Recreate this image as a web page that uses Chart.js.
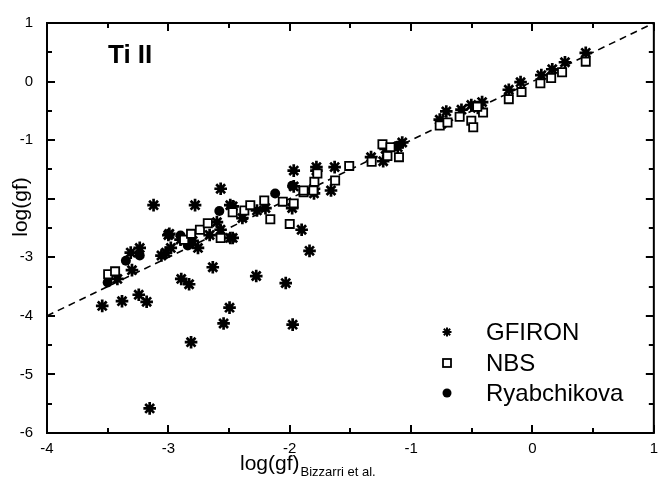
<!DOCTYPE html>
<html><head><meta charset="utf-8">
<script src="https://cdn.jsdelivr.net/npm/chart.js@4/dist/chart.umd.min.js"></script>
<style>html,body{margin:0;padding:0;background:#fff}#wrap{width:665px;height:478px}</style>
</head><body><div id="wrap"><canvas id="c" width="665" height="478"></canvas></div>
<script>
// ---- data ----
const seriesNames = ['GFIRON', 'NBS', 'Ryabchikova'];
const panelLabel = 'Ti II';
const xTicks = [-4, -3, -2, -1, 0, 1];
const xTickLabels = ['-4', '-3', '-2', '-1', '0', '1'];
const yTicks = [-6, -5, -4, -3, -2, -1, 0, 1];
const yTickLabels = ['-6', '-5', '-4', '-3', '', '-1', '0', '1']; // -2 hidden behind the axis title

const gfironX = [-3.545,-3.382,-3.244,-3.179,-3.154,-2.894,-2.829,-2.813,-2.634,-2.545,-2.496,-2.276,-2.033,-1.976,-1.837,-3.122,-2.78,-2.569,-1.967,-1.902,
  -3.42,-3.30,-3.31,-3.236,-3.057,-3.02,-2.98,-3.0,-2.992,-2.90,-2.756,-2.80,-2.66,-2.57,-2.47,-2.47,-2.60,-2.49,-2.39,-2.27,-2.20,-1.98,-1.967,-1.78,-1.80,-2.49,
  -1.78,-1.80,-1.63,-1.66,-1.33,-1.21,-1.11,-1.23,-1.073,
  -0.764,-0.71,-0.585,-0.504,-0.415,-0.195,-0.098,0.073,0.163,0.268,0.439,-0.75,-0.45];
const gfironY = [-3.83,-3.75,-3.64,-3.76,-5.58,-3.37,-3.46,-4.45,-3.17,-4.13,-3.86,-3.32,-3.44,-4.15,-2.89,-2.11,-2.11,-1.83,-1.52,-2.53,
  -3.37,-3.22,-2.92,-2.84,-2.97,-2.92,-2.84,-2.62,-2.60,-2.70,-2.84,-2.72,-2.62,-2.53,-2.67,-2.13,-2.40,-2.11,-2.33,-2.20,-2.16,-2.16,-1.79,-1.52,-1.83,-2.67,
  -1.46,-1.91,-1.46,-1.86,-1.29,-1.15,-1.12,-1.36,-1.04,
  -0.65,-0.51,-0.48,-0.40,-0.35,-0.14,-0.01,0.11,0.21,0.33,0.49,-0.72,-0.45];

const nbsX = [-3.496,-3.439,-2.87,-2.813,-2.74,-2.675,-2.569,-2.47,-2.374,-2.325,-2.21,-2.16,-2.0,-2.057,-1.967,-1.886,-1.797,-1.886,-1.772,-1.805,-1.626,-1.51,-1.325,-1.236,-1.195,-1.10,-1.17,
  -0.764,-0.70,-0.60,-0.504,-0.488,-0.407,-0.455,-0.195,-0.09,0.065,0.154,0.244,0.439];
const nbsY = [-3.29,-3.24,-2.70,-2.60,-2.53,-2.42,-2.67,-2.23,-2.20,-2.11,-2.03,-2.35,-2.43,-2.05,-2.08,-1.89,-1.71,-1.86,-1.57,-1.86,-1.69,-1.44,-1.37,-1.07,-1.27,-1.29,-1.12,
  -0.75,-0.70,-0.60,-0.67,-0.78,-0.53,-0.43,-0.30,-0.18,-0.03,0.06,0.16,0.34];

const ryabX = [-3.50,-3.35,-3.236,-2.90,-2.84,-2.58,-2.12,-1.98,-1.12,-0.48];
const ryabY = [-3.43,-3.06,-2.97,-2.63,-2.80,-2.21,-1.91,-1.78,-1.10,-0.42];

const refLineX = [-4, 1];
const refLineY = [-4, 1];

const pts = (xs, ys) => xs.map((x, i) => ({x: x, y: ys[i]}));
const FONT = '"Liberation Sans", Arial, sans-serif';

// ---- plugin: frame, inward ticks, texts, legend ----
const decor = {
  id: 'decor',
  afterDraw(chart) {
    const ctx = chart.ctx, xs = chart.scales.x, ys = chart.scales.y, a = chart.chartArea;
    ctx.save();
    ctx.strokeStyle = '#000';
    ctx.lineWidth = 2;
    ctx.strokeRect(a.left, a.top, a.right - a.left, a.bottom - a.top);
    ctx.beginPath();
    for (let v = xs.min; v <= xs.max + 1e-9; v += 0.5) {
      const px = Math.round(xs.getPixelForValue(v));
      const len = (Math.abs(v - Math.round(v)) < 1e-9) ? 8 : 5;
      ctx.moveTo(px, a.bottom); ctx.lineTo(px, a.bottom - len);
      ctx.moveTo(px, a.top); ctx.lineTo(px, a.top + len);
    }
    for (let v = ys.min; v <= ys.max + 1e-9; v += 0.5) {
      const py = Math.round(ys.getPixelForValue(v));
      const len = (Math.abs(v - Math.round(v)) < 1e-9) ? 8 : 5;
      ctx.moveTo(a.left, py); ctx.lineTo(a.left + len, py);
      ctx.moveTo(a.right, py); ctx.lineTo(a.right - len, py);
    }
    ctx.stroke();
    // panel label
    ctx.fillStyle = '#000';
    ctx.font = 'bold 26px ' + FONT;
    ctx.textBaseline = 'alphabetic';
    ctx.textAlign = 'left';
    ctx.fillText(panelLabel, 108, 63);
    // x title
    ctx.font = '21px ' + FONT;
    ctx.fillText('log(gf)', 240, 470);
    const w = ctx.measureText('log(gf)').width;
    ctx.font = '13px ' + FONT;
    ctx.fillText('Bizzarri et al.', 240 + w + 1, 476);
    // y title
    ctx.save();
    ctx.translate(27, 207);
    ctx.rotate(-Math.PI / 2);
    ctx.textAlign = 'center';
    ctx.font = '21px ' + FONT;
    ctx.fillText('log(gf)', 0, 0);
    ctx.restore();
    // legend
    const lx = 447, rows = [332, 363, 393];
    ctx.font = '24px ' + FONT;
    ctx.textBaseline = 'middle';
    seriesNames.forEach((n, i) => ctx.fillText(n, 486, rows[i] + 1));
    ctx.lineWidth = 2;
    ctx.beginPath();
    const r = 4.5;
    for (let k = 0; k < 4; k++) {
      const ang = k * Math.PI / 4;
      ctx.moveTo(lx - r * Math.cos(ang), rows[0] - r * Math.sin(ang));
      ctx.lineTo(lx + r * Math.cos(ang), rows[0] + r * Math.sin(ang));
    }
    ctx.stroke();
    ctx.lineWidth = 1.8;
    ctx.strokeRect(lx - 4, rows[1] - 4, 8, 8);
    ctx.beginPath(); ctx.arc(lx, rows[2], 4.5, 0, Math.PI * 2); ctx.fill();
    ctx.restore();
  }
};

new Chart(document.getElementById('c'), {
  type: 'scatter',
  data: {
    datasets: [
      { label: 'ref', type: 'line', data: pts(refLineX, refLineY), borderColor: '#000', borderWidth: 1.6,
        borderDash: [7, 5], pointRadius: 0, fill: false, order: 4 },
      { label: seriesNames[2], data: pts(ryabX, ryabY), pointStyle: 'circle', pointRadius: 5,
        backgroundColor: '#000', borderColor: '#000', borderWidth: 0, order: 3 },
      { label: seriesNames[0], data: pts(gfironX, gfironY), pointStyle: 'star', pointRadius: 6.3,
        backgroundColor: '#000', borderColor: '#000', borderWidth: 2.7, order: 2 },
      { label: seriesNames[1], data: pts(nbsX, nbsY), pointStyle: 'rect', pointRadius: 5.8,
        backgroundColor: '#fff', borderColor: '#000', borderWidth: 1.8, order: 1 }
    ]
  },
  options: {
    responsive: false,
    animation: false,
    events: [],
    layout: { padding: { left: 0, right: 3, top: 17, bottom: 0 } },
    plugins: { legend: { display: false }, tooltip: { enabled: false } },
    scales: {
      x: {
        type: 'linear', min: -4, max: 1,
        afterBuildTicks: s => { s.ticks = xTicks.map(v => ({value: v})); },
        afterFit: s => { s.height = 45; },
        grid: { display: true, drawOnChartArea: false, drawTicks: false },
        border: { display: false },
        ticks: { color: '#000', padding: 7, font: { family: FONT, size: 15 },
          callback: (v) => { const i = xTicks.indexOf(v); return i >= 0 ? xTickLabels[i] : ''; } }
      },
      y: {
        type: 'linear', min: -6, max: 1,
        afterBuildTicks: s => { s.ticks = yTicks.map(v => ({value: v})); },
        afterFit: s => { s.width = 47; },
        grid: { display: true, drawOnChartArea: false, drawTicks: false },
        border: { display: false },
        ticks: { color: '#000', padding: 14, font: { family: FONT, size: 15 },
          callback: (v) => { const i = yTicks.indexOf(v); return i >= 0 ? yTickLabels[i] : ''; } }
      }
    }
  },
  plugins: [decor]
});
</script></body></html>
